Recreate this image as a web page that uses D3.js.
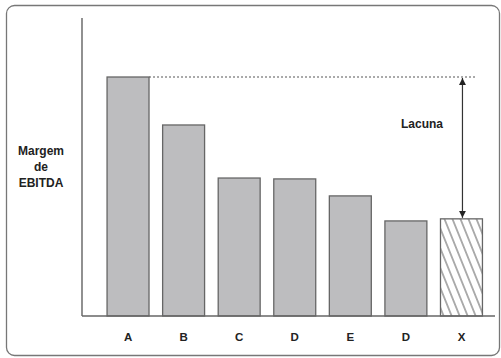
<!DOCTYPE html>
<html>
<head>
<meta charset="utf-8">
<script src="https://cdn.jsdelivr.net/npm/d3@7"></script>
<style>
  html, body { margin: 0; padding: 0; background: #fff; }
  svg { display: block; }
  text { font-family: "Liberation Sans", Arial, sans-serif; font-weight: bold; fill: #222; }
</style>
</head>
<body>
<svg id="chart" width="501" height="358"></svg>
<script>
// EBITDA margin by company; the last bar (X) is the target, drawn hatched
const categories = ["A", "B", "C", "D", "E", "D", "X"];
const margins = [80.2, 64.1, 46.3, 46.0, 40.3, 31.9, 32.6];
const targetIndex = 6;
const yLabelLines = ["Margem", "de", "EBITDA"];
const gapLabel = "Lacuna";

const svg = d3.select("#chart");

// outer frame
svg.append("rect")
  .attr("x", 6.5).attr("y", 5.5)
  .attr("width", 493).attr("height", 350)
  .attr("rx", 8).attr("ry", 8)
  .attr("fill", "none")
  .attr("stroke", "#777")
  .attr("stroke-width", 1.3);

const axisX = 82, baseY = 316, topY = 18;

const x = d3.scaleBand()
  .domain(d3.range(categories.length))
  .range([101.5, 488])
  .paddingInner(0.245)
  .paddingOuter(0.1);

const y = d3.scaleLinear().domain([0, 100]).range([baseY, topY]);

// hatch pattern for the target bar
const defs = svg.append("defs");
const pat = defs.append("pattern")
  .attr("id", "hatch")
  .attr("patternUnits", "userSpaceOnUse")
  .attr("width", 8).attr("height", 18)
  .attr("patternTransform", "skewX(22)");
pat.append("rect").attr("width", 8).attr("height", 18).attr("fill", "#fff");
pat.append("line")
  .attr("x1", 4).attr("y1", 0).attr("x2", 4).attr("y2", 18)
  .attr("stroke", "#555").attr("stroke-width", 1);

// bars
svg.append("g").selectAll("rect")
  .data(margins)
  .join("rect")
  .attr("x", (d, i) => x(i))
  .attr("y", d => y(d))
  .attr("width", x.bandwidth())
  .attr("height", d => baseY - y(d))
  .attr("fill", (d, i) => i === targetIndex ? "url(#hatch)" : "#bdbdbf")
  .attr("stroke", "#666")
  .attr("stroke-width", 1.3);

// axes lines
svg.append("line")
  .attr("x1", axisX).attr("y1", topY).attr("x2", axisX).attr("y2", baseY)
  .attr("stroke", "#555").attr("stroke-width", 1.3);
svg.append("line")
  .attr("x1", axisX).attr("y1", baseY).attr("x2", 495).attr("y2", baseY)
  .attr("stroke", "#666").attr("stroke-width", 1.3);

// category labels
const xAxis = d3.axisBottom(x).tickSize(0).tickPadding(0).tickFormat(i => categories[i]);
const gx = svg.append("g").attr("transform", `translate(0,${baseY})`).call(xAxis);
gx.select(".domain").remove();
gx.selectAll("text")
  .attr("dy", null)
  .attr("y", 25)
  .style("font-size", "11.5px")
  .style("font-family", "'Liberation Sans', Arial, sans-serif")
  .style("font-weight", "bold")
  .attr("fill", "#222");

// y label
const yl = svg.append("text")
  .attr("text-anchor", "middle")
  .style("font-size", "12px");
yLabelLines.forEach((t, i) => {
  yl.append("tspan").attr("x", 41).attr("y", 155 + i * 16).text(t);
});

// dotted reference line at the leader's margin
const topVal = margins[0];
const arrowX = x(targetIndex) + x.bandwidth() / 2 + 1;
svg.append("line")
  .attr("x1", x(0) + x.bandwidth()).attr("x2", 476)
  .attr("y1", y(topVal)).attr("y2", y(topVal))
  .attr("stroke", "#555")
  .attr("stroke-width", 1.1)
  .attr("stroke-dasharray", "2,2");

// double-headed arrow showing the gap
defs.append("marker")
  .attr("id", "arrow")
  .attr("viewBox", "0 0 10 10")
  .attr("refX", 10).attr("refY", 5)
  .attr("markerWidth", 7).attr("markerHeight", 7)
  .attr("markerUnits", "userSpaceOnUse")
  .attr("orient", "auto-start-reverse")
  .append("path").attr("d", "M0,0 L10,5 L0,10 Z").attr("fill", "#222");

svg.append("line")
  .attr("x1", arrowX).attr("x2", arrowX)
  .attr("y1", y(topVal) + 1).attr("y2", y(margins[targetIndex]) - 1)
  .attr("stroke", "#333").attr("stroke-width", 1.2)
  .attr("marker-start", "url(#arrow)")
  .attr("marker-end", "url(#arrow)");

svg.append("text")
  .attr("x", 422).attr("y", 128)
  .attr("text-anchor", "middle")
  .style("font-size", "12px")
  .text(gapLabel);
</script>
</body>
</html>
